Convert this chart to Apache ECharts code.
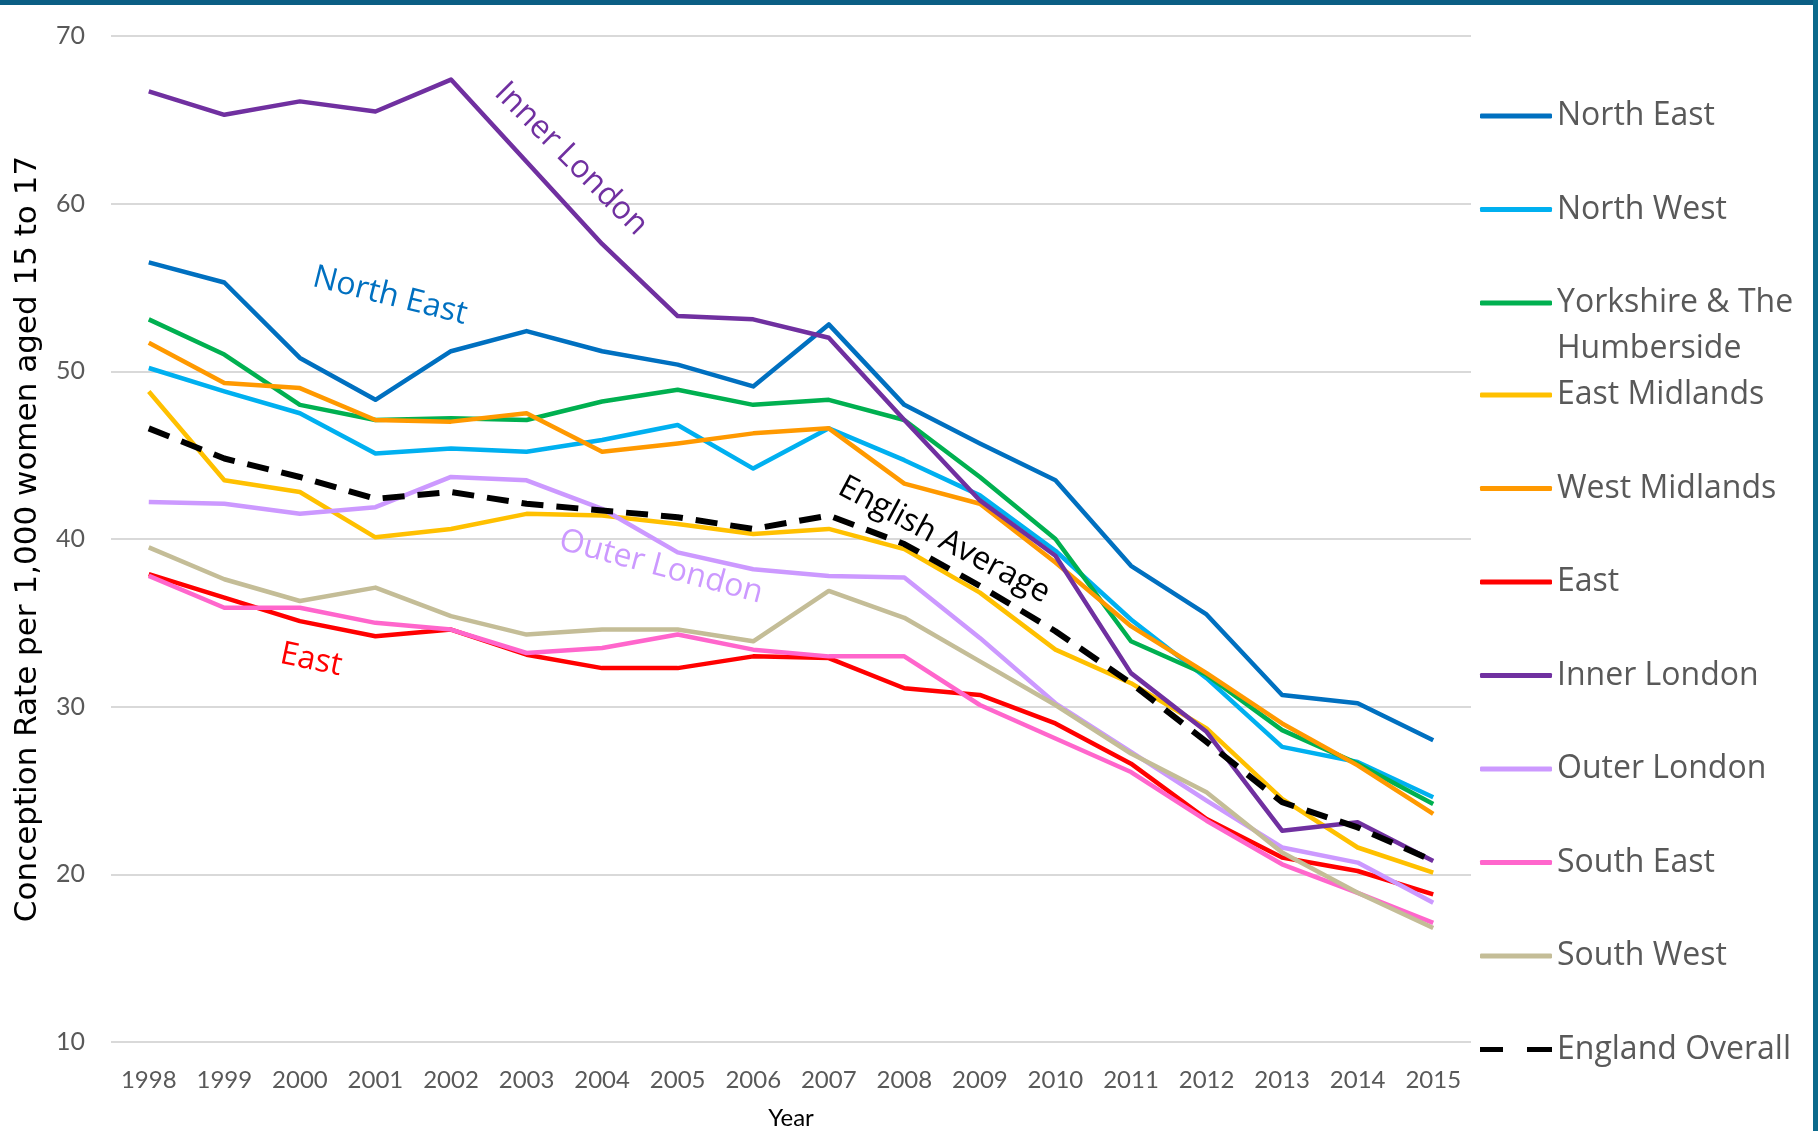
<!DOCTYPE html>
<html>
<head>
<meta charset="utf-8">
<script src="https://cdn.jsdelivr.net/npm/echarts@6/dist/echarts.min.js"></script>
<style>
  html, body { margin: 0; padding: 0; background: #fff; }
  #chart { width: 1818px; height: 1131px; }
</style>
</head>
<body>
<div id="chart"></div>
<script>
// years on the x axis
const years = ['1998','1999','2000','2001','2002','2003','2004','2005','2006','2007','2008','2009','2010','2011','2012','2013','2014','2015']

// conception rate per 1,000 women aged 15 to 17
const northEast    = [56.5, 55.3, 50.8, 48.3, 51.2, 52.4, 51.2, 50.4, 49.1, 52.8, 48.0, 45.7, 43.5, 38.4, 35.5, 30.7, 30.2, 28.0]
const northWest    = [50.2, 48.8, 47.5, 45.1, 45.4, 45.2, 45.9, 46.8, 44.2, 46.6, 44.7, 42.6, 39.3, 35.2, 31.7, 27.6, 26.7, 24.6]
const yorkshire    = [53.1, 51.0, 48.0, 47.1, 47.2, 47.1, 48.2, 48.9, 48.0, 48.3, 47.1, 43.7, 40.0, 33.9, 31.9, 28.6, 26.6, 24.2]
const eastMidlands = [48.8, 43.5, 42.8, 40.1, 40.6, 41.5, 41.4, 40.9, 40.3, 40.6, 39.4, 36.8, 33.4, 31.4, 28.7, 24.5, 21.6, 20.1]
const westMidlands = [51.7, 49.3, 49.0, 47.1, 47.0, 47.5, 45.2, 45.7, 46.3, 46.6, 43.3, 42.1, 38.6, 34.8, 32.0, 29.0, 26.5, 23.6]
const east         = [37.9, 36.5, 35.1, 34.2, 34.6, 33.1, 32.3, 32.3, 33.0, 32.9, 31.1, 30.7, 29.0, 26.6, 23.3, 21.0, 20.2, 18.8]
const innerLondon  = [66.7, 65.3, 66.1, 65.5, 67.4, 62.5, 57.6, 53.3, 53.1, 52.0, 47.1, 42.3, 39.0, 32.0, 28.5, 22.6, 23.1, 20.8]
const outerLondon  = [42.2, 42.1, 41.5, 41.9, 43.7, 43.5, 41.8, 39.2, 38.2, 37.8, 37.7, 34.1, 30.2, 27.3, 24.4, 21.6, 20.7, 18.3]
const southEast    = [37.8, 35.9, 35.9, 35.0, 34.6, 33.2, 33.5, 34.3, 33.4, 33.0, 33.0, 30.1, 28.1, 26.1, 23.2, 20.6, 18.9, 17.1]
const southWest    = [39.5, 37.6, 36.3, 37.1, 35.4, 34.3, 34.6, 34.6, 33.9, 36.9, 35.3, 32.7, 30.1, 27.2, 24.9, 21.3, 18.9, 16.8]
const england      = [46.6, 44.8, 43.7, 42.4, 42.8, 42.1, 41.7, 41.3, 40.6, 41.4, 39.7, 37.2, 34.5, 31.4, 27.9, 24.3, 22.8, 20.8]

const regions = [
    { name: 'North East', data: northEast, color: '#0070C0' },
    { name: 'North West', data: northWest, color: '#00B0F0' },
    { name: 'Yorkshire & The Humberside', data: yorkshire, color: '#00B050' },
    { name: 'East Midlands', data: eastMidlands, color: '#FFC000' },
    { name: 'West Midlands', data: westMidlands, color: '#FF9900' },
    { name: 'East', data: east, color: '#FF0000' },
    { name: 'Inner London', data: innerLondon, color: '#7030A0' },
    { name: 'Outer London', data: outerLondon, color: '#CC99FF' },
    { name: 'South East', data: southEast, color: '#FF66CC' },
    { name: 'South West', data: southWest, color: '#C4BD97' }
]

const uiFont = '"Open Sans", sans-serif'
// text labels written on the plot (angle in degrees, clockwise)
function note (text, x, y, angle, color) {
    return {
        type: 'text', x, y, rotation: -angle * Math.PI / 180, z: 100,
        style: { text, fill: color, font: '32px ' + uiFont, align: 'center', verticalAlign: 'middle' }
    }
}

const series = regions.map(r => ({
    name: r.name,
    type: 'line',
    data: r.data,
    symbol: 'none',
    lineStyle: { width: 4.5, color: r.color, join: 'round' },
    itemStyle: { color: r.color }
}))
series.push({
    name: 'England Overall',
    type: 'line',
    data: england,
    symbol: 'none',
    z: 5,
    lineStyle: { width: 6, color: '#000', type: [22, 13] },
    itemStyle: { color: '#000' }
})

// legend split in three so the wrapped Yorkshire label keeps the even row spacing
const legendBase = {
    orient: 'vertical',
    left: 1480,
    padding: 0,
    itemWidth: 72,
    itemHeight: 5,
    itemGap: 47.5,
    icon: 'roundRect',
    // leading blank line keeps the first text line level with the icon
    formatter: n => n === 'Yorkshire & The Humberside' ? ' \nYorkshire & The\nHumberside' : n,
    textStyle: { fontFamily: uiFont, fontSize: 32, color: '#595959', lineHeight: 46 }
}
const legendNames = series.map(s => s.name)

const ec = echarts.init(document.getElementById('chart'))
ec.setOption({
    animation: false,
    backgroundColor: '#fff',
    grid: { left: 111, right: 347, top: 36, bottom: 89, containLabel: false, outerBoundsMode: 'none' },
    legend: [
        Object.assign({}, legendBase, { top: 93, data: legendNames.slice(0, 2) }),
        Object.assign({}, legendBase, { top: 234, data: legendNames.slice(2, 3) }),
        Object.assign({}, legendBase, {
            top: 372,
            data: legendNames.slice(3).map(n => n === 'England Overall'
                ? { name: n, icon: 'path://M0,0h23v5h-23z M47,0h25v5h-25z' } : n)
        })
    ],
    xAxis: {
        type: 'category',
        data: years,
        boundaryGap: true,
        name: 'Year',
        nameLocation: 'middle',
        nameGap: 64,
        nameTextStyle: { fontFamily: 'Lato', fontSize: 24, color: '#000' },
        axisLine: { show: false },
        axisTick: { show: false },
        axisLabel: { fontFamily: 'Lato', fontSize: 24, color: '#595959', margin: 26 },
        splitLine: { show: false }
    },
    yAxis: {
        type: 'value',
        min: 10,
        max: 70,
        interval: 10,
        name: 'Conception Rate per 1,000 women aged 15 to 17',
        nameLocation: 'middle',
        nameGap: 68,
        nameTextStyle: { fontFamily: '"DejaVu Sans"', fontSize: 31, color: '#000' },
        axisLine: { show: false },
        axisTick: { show: false },
        axisLabel: { fontFamily: 'Lato', fontSize: 25, color: '#595959', margin: 26 },
        splitLine: { lineStyle: { color: '#D9D9D9', width: 2 } }
    },
    graphic: [
        { type: 'rect', shape: { x: 0, y: 0, width: 1818, height: 5 }, style: { fill: '#0B5E84' }, z: 200 },
        { type: 'rect', shape: { x: 1813, y: 0, width: 5, height: 1131 }, style: { fill: '#0B6A8C' }, z: 200 },
        note('Inner London', 571, 159, 45, '#7030A0'),
        note('North East', 390, 296, 14, '#0070C0'),
        note('Outer London', 661, 567, 15, '#CC99FF'),
        note('East', 311, 660, 12, '#FF0000'),
        note('English Average', 944, 540, 28, '#000')
    ],
    series
})
</script>
</body>
</html>
